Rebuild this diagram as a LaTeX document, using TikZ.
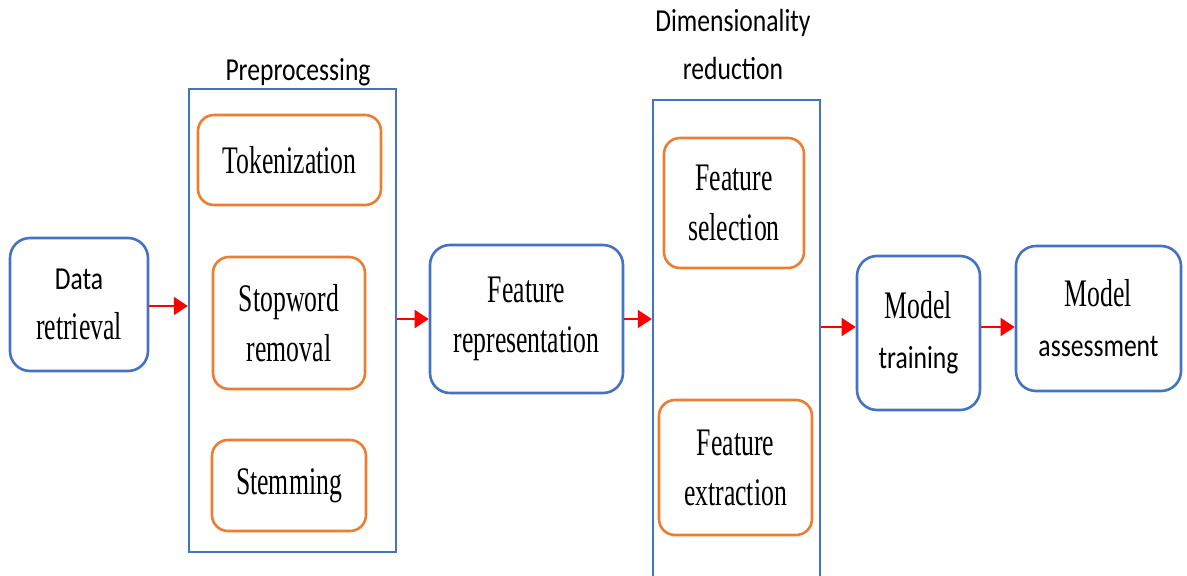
\documentclass[tikz,border=0pt]{standalone}
\usepackage{fontspec}
\usetikzlibrary{arrows.meta}
\newfontfamily\serifc[FakeStretch=0.66]{Liberation Serif}
\newfontfamily\sansc[FakeStretch=0.80]{Carlito}
\definecolor{boxblue}{HTML}{4472C4}
\definecolor{boxorange}{HTML}{ED7D31}
\newcommand{\sertxt}[1]{{\serifc\fontsize{39}{50}\selectfont #1}}
\newcommand{\santxt}[1]{{\sansc\fontsize{32}{50}\selectfont #1}}
\tikzset{
  stage/.style={draw=boxblue, line width=2.6pt, rounded corners=20pt, align=center,
    inner sep=0pt, font={\fontsize{39}{50}\selectfont}},
  substage/.style={draw=boxorange, line width=2.6pt, rounded corners=16pt, align=center,
    inner sep=0pt, font={\fontsize{39}{50}\selectfont}},
  group/.style={draw=boxblue, line width=2.4pt, inner sep=0pt},
  flow/.style={draw=red, line width=1.6pt, -{Triangle[length=14pt,width=18pt]}},
  title/.style={align=center, inner sep=0pt, font={\fontsize{32}{48}\selectfont}}
}
\begin{document}
\begin{tikzpicture}[x=1pt, y=-1pt]
  \useasboundingbox (0,0) rectangle (1187,576);

  % main stages
  \node[stage, minimum width=138pt, minimum height=133pt] (data) at (79,304.5)
    {\santxt{Data}\\\sertxt{retrieval}};
  \node[stage, minimum width=193pt, minimum height=148pt] (rep) at (526.5,319)
    {\sertxt{Feature}\\\sertxt{representation}};
  \node[stage, minimum width=123pt, minimum height=154pt] (train) at (918.5,333)
    {\sertxt{Model}\\\santxt{training}};
  \node[stage, minimum width=165pt, minimum height=145pt] (assess) at (1098.5,318.5)
    {\sertxt{Model}\\\santxt{assessment}};

  % preprocessing group
  \node[group, minimum width=207pt, minimum height=463pt] (prep) at (292.5,320.5) {};
  \node[title] (preptitle) at (298,72) {\santxt{Preprocessing}};
  \node[substage, minimum width=183pt, minimum height=90pt] (tok) at (289.5,160)
    {\sertxt{Tokenization}};
  \node[substage, minimum width=152pt, minimum height=132pt] (stop) at (289,323)
    {\sertxt{Stopword}\\\sertxt{removal}};
  \node[substage, minimum width=154pt, minimum height=91pt] (stem) at (289,485.5)
    {\sertxt{Stemming}};

  % dimensionality reduction group
  \node[group, minimum width=167pt, minimum height=480pt] (dim) at (736.5,340) {};
  \node[title] (dimtitle) at (733,45) {\santxt{Dimensionality}\\\santxt{reduction}};
  \node[substage, minimum width=140pt, minimum height=130pt] (sel) at (734,203)
    {\sertxt{Feature}\\\sertxt{selection}};
  \node[substage, minimum width=153pt, minimum height=135pt] (ext) at (735.5,467.5)
    {\sertxt{Feature}\\\sertxt{extraction}};

  % flow arrows
  \draw[flow] (data.east |- 0,306) -- (prep.west |- 0,306);
  \draw[flow] (prep.east |- rep.west) -- (rep.west);
  \draw[flow] (rep.east) -- (dim.west |- rep.east);
  \draw[flow] (dim.east |- 0,327) -- (train.west |- 0,327);
  \draw[flow] (train.east |- 0,327) -- (assess.west |- 0,327);
\end{tikzpicture}
\end{document}
